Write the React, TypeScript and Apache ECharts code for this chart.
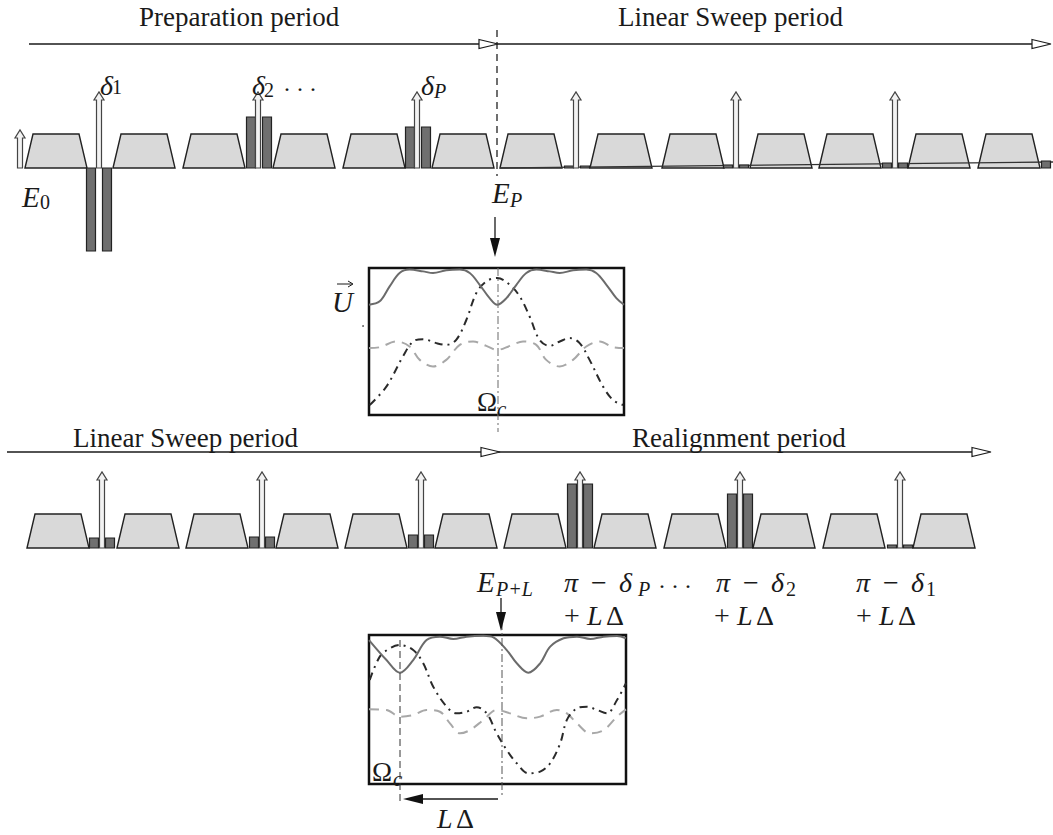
import React, { useEffect, useRef } from "react";
import * as echarts from "echarts";

const W = 1053;
const H = 835;

// ---- pulse train data (diagram units = page pixels) ----
const row1Base = 168;
const row2Base = 548;

const row1PulseLefts = [25, 113, 183, 273, 343, 432, 500, 590, 662, 750, 819, 908, 978];
const row2PulseLefts = [27, 117, 186, 276, 345, 435, 504, 594, 664, 753, 823, 913];

const row1BarCenters = [99, 259, 418, 577, 736, 895, 1054];
const row1BarHeights = [-83, 51, 41, 2, 3, 5, 7];
const row2BarCenters = [102, 262, 421, 580, 740, 900];
const row2BarHeights = [10, 11, 13, 64, 54, 3];

const row1ArrowX = [20, 99, 258, 417, 576, 736, 895];
const row1ArrowLen = [38, 76, 76, 76, 76, 76, 76];
const row2ArrowX = [102, 262, 421, 580, 740, 900];
const row2ArrowLen = [76, 76, 76, 76, 76, 76];

const sweepRamp = [[500, 168], [1053, 162]];

// ---- inset curves (x: 0..100 across box, y: 0..100 bottom..top) ----
const box1Solid = [[0, 75], [4.2, 77.3], [8.1, 87.5], [12, 96.6], [15.9, 98.9], [21.2, 97.7], [25.1, 96.6], [30.3, 98.4], [35.6, 98.9], [39.5, 96.6], [43.4, 88.6], [47.3, 79.5], [50.3, 75], [53.9, 79.5], [57.8, 88.6], [61.7, 96.6], [65.6, 98.9], [70.8, 97.7], [74.8, 96.6], [80, 98.4], [85.2, 98.9], [89.1, 96.6], [93.1, 88.6], [97, 79.5], [100, 75]];
const box1Dashed = [[0, 45.5], [4.2, 46.1], [10.7, 50], [15.9, 46.6], [19.9, 37.5], [25.1, 33], [30.3, 37.5], [35.6, 47.7], [40.8, 50], [46, 47], [50.3, 44.3], [55.2, 47], [60.4, 50], [65.6, 47.7], [69.5, 37.5], [74.8, 33], [80, 37.5], [85.2, 46.6], [90.5, 50], [95.7, 46.1], [100, 45.5]];
const box1DashDot = [[0.3, 6.8], [6.8, 19.3], [13.3, 39.8], [17.3, 50], [21.2, 51.6], [26.4, 48.9], [30.3, 47.7], [34.2, 51.1], [38.2, 64.8], [42.1, 83], [46, 90.9], [50.3, 93.2], [55.2, 88.6], [59.1, 80.7], [63, 67], [66.9, 51.1], [70.8, 47], [74.8, 50], [78.7, 52.3], [82.6, 48.9], [86.5, 37.5], [91.8, 19.3], [95.7, 10.2], [99.6, 6.8]];

const box2Solid = [[0, 96.6], [6.8, 83.2], [12, 74.7], [17.2, 83.2], [22.4, 96.6], [27.6, 98.9], [32.8, 97.3], [38, 98.9], [44.5, 99.5], [48.4, 98.4], [53.6, 89.9], [57.5, 81], [62, 74.7], [66.6, 81], [70.5, 92.2], [75.7, 97.8], [80.9, 98.9], [86.1, 97.3], [91.3, 98.9], [96.5, 99.3], [100, 97.8]];
const box2Dashed = [[0, 50.1], [6.8, 49.7], [12, 45.2], [17.2, 46.3], [22.4, 49.7], [27.6, 48.5], [31.5, 40.7], [35.4, 34], [39.3, 36.2], [44.5, 43], [49.7, 49.7], [54.9, 47.4], [61.4, 44.1], [66.6, 45.2], [73.1, 49.7], [77, 47.4], [80.9, 40.7], [86.1, 34], [91.3, 36.2], [96.5, 45.2], [100, 50.1]];
const box2DashDot = [[0.3, 69.8], [4.2, 85.5], [8.1, 91], [12, 93.3], [17.2, 89.9], [21.1, 81], [25, 65.3], [30.2, 51.9], [34.1, 47.4], [38, 48.5], [41.9, 51.5], [45.8, 47.4], [49.7, 34], [53.6, 22.8], [57.5, 13.9], [62, 7.2], [66.6, 8.3], [70.5, 13.9], [74.4, 27.3], [77, 43], [80.9, 50.8], [84.8, 51.9], [88.7, 49.7], [92.6, 47.4], [96.5, 56.4], [100, 67.6]];

// ---- helpers for decorations ----
const INK = "#1a1a1a";
const FONT = '"Liberation Serif", "Times New Roman", serif';

function tx(s: string, x: number, base: number, size: number, italic = false): any {
  return {
    type: "text",
    x,
    y: base - size * 0.34,
    z: 30,
    style: {
      text: s,
      fill: INK,
      fontSize: size,
      fontFamily: FONT,
      fontStyle: italic ? "italic" : "normal",
      align: "left",
      verticalAlign: "middle",
      textAlign: "left",
      textVerticalAlign: "middle",
    },
  };
}

function hollowHead(tipX: number, y: number): any {
  return {
    type: "polygon",
    z: 25,
    shape: { points: [[tipX - 19, y - 4.5], [tipX, y], [tipX - 19, y + 4.5]] },
    style: { fill: "#fff", stroke: INK, lineWidth: 1.2 },
  };
}

function hLine(x1: number, x2: number, y: number, dash?: number[], color = INK, w = 1.3): any {
  return {
    type: "line",
    z: 24,
    shape: { x1, y1: y, x2, y2: y },
    style: { stroke: color, lineWidth: w, lineDash: dash || null },
  };
}

function vLine(x: number, y1: number, y2: number, dash?: number[], color = INK, w = 1.3): any {
  return {
    type: "line",
    z: 24,
    shape: { x1: x, y1, x2: x, y2 },
    style: { stroke: color, lineWidth: w, lineDash: dash || null },
  };
}

function solidDown(x: number, y1: number, y2: number): any[] {
  return [
    vLine(x, y1, y2 - 16, undefined, INK, 1.3),
    {
      type: "polygon",
      z: 25,
      shape: { points: [[x - 5, y2 - 19], [x + 5, y2 - 19], [x, y2]] },
      style: { fill: "#111" },
    },
  ];
}

const graphics: any[] = [
  // header arrows
  hLine(29, 1049, 44),
  hollowHead(498, 44),
  hollowHead(1051, 44),
  hLine(7, 989, 452),
  hollowHead(500, 452),
  hollowHead(991, 452),
  // vertical guide lines
  vLine(497, 30, 176, [7, 5], "#222", 1.3),
  vLine(498, 268, 432, [8, 3, 2, 3], "#777", 1.1),
  vLine(400, 640, 803, [7, 4], "#333", 1),
  vLine(502, 622, 798, [8, 3, 2, 3], "#555", 1),
  // down arrows
  ...solidDown(495, 217, 257),
  ...solidDown(501, 598, 631),
  // L-Delta arrow
  hLine(420, 498, 799, undefined, INK, 1.3),
  {
    type: "polygon",
    z: 25,
    shape: { points: [[423, 794], [423, 804], [403, 799]] },
    style: { fill: "#111" },
  },
  // U vector arrow
  hLine(337, 352, 284, undefined, INK, 1),
  {
    type: "polyline",
    z: 25,
    shape: { points: [[348, 281], [353, 284], [348, 287]] },
    style: { stroke: INK, lineWidth: 1, fill: null },
  },
  { type: "circle", z: 25, shape: { cx: 363, cy: 326, r: 0.8 }, style: { fill: "#444" } },
  // titles
  tx("Preparation period", 139, 26, 27),
  tx("Linear Sweep period", 618, 26, 27),
  tx("Linear Sweep period", 73, 447, 27),
  tx("Realignment period", 632, 447, 27),
  // row 1 labels
  tx("δ", 100, 95, 28, true),
  tx("1", 112, 94, 20),
  tx("δ", 252, 95, 28, true),
  tx("2", 264, 97, 20),
  tx("·", 283, 97, 24),
  tx("·", 296, 97, 24),
  tx("·", 309, 97, 24),
  tx("δ", 421, 95, 28, true),
  tx("P", 434, 98, 20, true),
  tx("E", 22, 207, 29, true),
  tx("0", 40, 209, 20),
  tx("E", 492, 203, 29, true),
  tx("P", 510, 207, 20, true),
  tx("U", 332, 312, 29, true),
  tx("Ω", 477, 411, 27),
  tx("c", 497, 416, 21, true),
  // row 2 labels
  tx("E", 477, 592, 29, true),
  tx("P+L", 496, 596, 20, true),
  tx("π", 564, 592, 28, true),
  tx("−", 591, 592, 28),
  tx("δ", 619, 592, 28, true),
  tx("P", 638, 596, 20, true),
  tx("·", 658, 594, 24),
  tx("·", 671, 594, 24),
  tx("·", 684, 594, 24),
  tx("+", 564, 625, 28),
  tx("L", 587, 625, 28, true),
  tx("Δ", 606, 625, 28),
  tx("π", 716, 592, 28, true),
  tx("−", 743, 592, 28),
  tx("δ", 771, 592, 28, true),
  tx("2", 786, 596, 20),
  tx("+", 714, 625, 28),
  tx("L", 737, 625, 28, true),
  tx("Δ", 756, 625, 28),
  tx("π", 856, 592, 28, true),
  tx("−", 883, 592, 28),
  tx("δ", 911, 592, 28, true),
  tx("1", 926, 596, 20),
  tx("+", 856, 625, 28),
  tx("L", 879, 625, 28, true),
  tx("Δ", 898, 625, 28),
  tx("Ω", 372, 781, 27),
  tx("c", 393, 786, 21, true),
  tx("L", 437, 828, 28, true),
  tx("Δ", 456, 828, 28),
];

function buildOption(): any {
  const pulseData = [
    ...row1PulseLefts.map((x) => [x, row1Base]),
    ...row2PulseLefts.map((x) => [x, row2Base]),
  ];
  const barData = [
    ...row1BarCenters.map((c, i) => [c, row1Base, row1BarHeights[i]]),
    ...row2BarCenters.map((c, i) => [c, row2Base, row2BarHeights[i]]),
  ];
  const arrowData = [
    ...row1ArrowX.map((x, i) => [x, row1Base, row1ArrowLen[i]]),
    ...row2ArrowX.map((x, i) => [x, row2Base, row2ArrowLen[i]]),
  ];

  const curve = (data: number[][], idx: number, color: string, type: any, z: number) => ({
    type: "line",
    xAxisIndex: idx,
    yAxisIndex: idx,
    data,
    smooth: 0.35,
    symbol: "none",
    showSymbol: false,
    z,
    lineStyle: { color, width: 2, type },
  });

  return {
    animation: false,
    backgroundColor: "#fff",
    grid: [
      { left: 0, top: 0, width: W, height: H, show: false },
      { left: 369, top: 268, width: 255, height: 147, show: true, borderColor: "#111", borderWidth: 2.5, backgroundColor: "transparent" },
      { left: 369, top: 635, width: 257, height: 149, show: true, borderColor: "#111", borderWidth: 2.5, backgroundColor: "transparent" },
    ],
    xAxis: [
      { gridIndex: 0, type: "value", min: 0, max: W, show: false },
      { gridIndex: 1, type: "value", min: 0, max: 100, show: false },
      { gridIndex: 2, type: "value", min: 0, max: 100, show: false },
    ],
    yAxis: [
      { gridIndex: 0, type: "value", min: 0, max: H, inverse: true, show: false },
      { gridIndex: 1, type: "value", min: 0, max: 100, show: false },
      { gridIndex: 2, type: "value", min: 0, max: 100, show: false },
    ],
    series: [
      {
        type: "custom",
        name: "pulses",
        xAxisIndex: 0,
        yAxisIndex: 0,
        z: 2,
        data: pulseData,
        renderItem: (_p: any, api: any) => {
          const x = api.value(0);
          const b = api.value(1);
          const pts = [
            api.coord([x, b]),
            api.coord([x + 8, b - 34]),
            api.coord([x + 54, b - 34]),
            api.coord([x + 62, b]),
          ];
          return {
            type: "polygon",
            shape: { points: pts },
            style: { fill: "#d9d9d9", stroke: "#222", lineWidth: 1.4 },
          };
        },
      },
      {
        type: "line",
        name: "ramp",
        xAxisIndex: 0,
        yAxisIndex: 0,
        data: sweepRamp,
        symbol: "none",
        z: 3,
        lineStyle: { color: "#333", width: 1.3 },
      },
      {
        type: "custom",
        name: "bars",
        xAxisIndex: 0,
        yAxisIndex: 0,
        z: 4,
        data: barData,
        renderItem: (_p: any, api: any) => {
          const c = api.value(0);
          const b = api.value(1);
          const h = api.value(2);
          const rect = (x0: number) => {
            const p0 = api.coord([x0, b]);
            const p1 = api.coord([x0 + 9, b - h]);
            return {
              type: "rect",
              shape: {
                x: Math.min(p0[0], p1[0]),
                y: Math.min(p0[1], p1[1]),
                width: Math.abs(p1[0] - p0[0]),
                height: Math.abs(p1[1] - p0[1]),
              },
              style: { fill: "#6f6f6f", stroke: "#222", lineWidth: 1.2 },
            };
          };
          return { type: "group", children: [rect(c - 12.5), rect(c + 3.5)] };
        },
      },
      {
        type: "custom",
        name: "arrows",
        xAxisIndex: 0,
        yAxisIndex: 0,
        z: 5,
        data: arrowData,
        renderItem: (_p: any, api: any) => {
          const x = api.value(0);
          const b = api.value(1);
          const len = api.value(2);
          const hy = b - len + 8;
          const pts = [
            [x - 2.5, b], [x - 2.5, hy], [x - 5, hy], [x, b - len],
            [x + 5, hy], [x + 2.5, hy], [x + 2.5, b],
          ].map((p) => api.coord(p));
          return {
            type: "polygon",
            shape: { points: pts },
            style: { fill: "#f2f2f2", stroke: "#444", lineWidth: 1.2 },
          };
        },
      },
      curve(box1Dashed, 1, "#a8a8a8", [10, 7], 6),
      curve(box1DashDot, 1, "#2a2a2a", [8, 5, 2, 5], 7),
      curve(box1Solid, 1, "#6b6b6b", "solid", 8),
      curve(box2Dashed, 2, "#a8a8a8", [10, 7], 6),
      curve(box2DashDot, 2, "#2a2a2a", [8, 5, 2, 5], 7),
      curve(box2Solid, 2, "#6b6b6b", "solid", 8),
    ],
    graphic: graphics,
  };
}

export default function App() {
  const ref = useRef<HTMLDivElement>(null);
  useEffect(() => {
    if (!ref.current) return;
    const chart = echarts.init(ref.current, null, { renderer: "svg" });
    chart.setOption(buildOption());
    return () => chart.dispose();
  }, []);
  return (
    <div
      ref={ref}
      style={{ position: "absolute", left: 0, top: 0, width: W, height: H, background: "#fff" }}
    />
  );
}
